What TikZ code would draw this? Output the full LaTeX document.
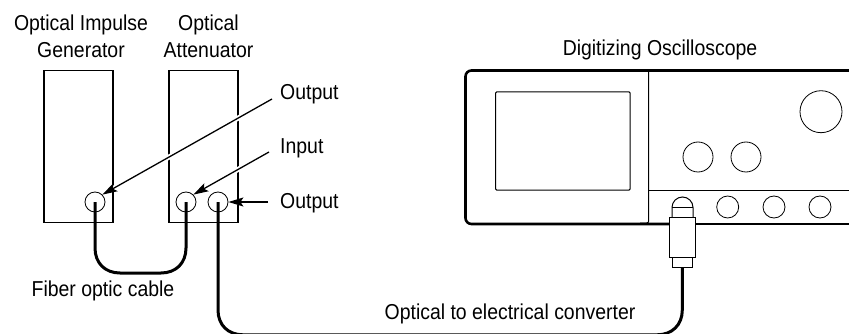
\documentclass[tikz,border=0pt]{standalone}
\usepackage{fontspec}
\setmainfont[FakeStretch=0.9]{Liberation Sans}
\usetikzlibrary{arrows.meta}
\tikzset{
  thinl/.style={draw=black,line width=1pt},
  unitbox/.style={draw=black,line width=1.6pt,line join=miter},
  heavy/.style={draw=black,line width=2.6pt},
  cable/.style={draw=black,line width=3pt},
  port/.style={circle,draw=black,line width=0.8pt,inner sep=0pt,minimum size=#1},
  label/.style={inner sep=0pt,font=\fontsize{21.6}{27}\selectfont,align=center},
  pointer/.style={draw=black,line width=1.3pt,-{Stealth[length=15pt,width=9pt,inset=3pt]}},
  halo/.style={draw=white,line width=5pt,shorten >=4pt},
}
\begin{document}
\begin{tikzpicture}[x=1pt,y=-1pt]
\useasboundingbox (0,0) rectangle (849,334);
% instruments
\node[unitbox,minimum width=69pt,minimum height=152pt,inner sep=0pt] (gen) at (78.6,146.6) {};
\node[unitbox,minimum width=69pt,minimum height=152pt,inner sep=0pt] (att) at (203.3,146.6) {};
\coordinate (a1) at (272,99);
\coordinate (a2) at (269,152);
\coordinate (a3) at (268,202);
\node[port=20pt] (p1) at (95,202) {};
\node[port=20pt] (p2) at (186,202) {};
\node[port=20pt] (p3) at (218,202) {};
\draw[halo] (a1) -- (p1.north east);
\draw[halo] (a2) -- (p2.north east);
\draw[halo] (a3) -- (p3.east);
% scope
\draw[heavy,rounded corners=6pt] (860,70.5) -- (465.5,70.5) -- (465.5,224) -- (669.5,224);
\draw[heavy] (695,224) -- (849,224);
\draw[thinl,rounded corners=2pt] (648.7,70.5) -- (648.7,223) -- (640,223);
\draw[thinl] (648.7,190.5) -- (849,190.5);
\node[draw=black,line width=1pt,rounded corners=1pt,minimum width=134.5pt,minimum height=98pt,inner sep=0pt] (screen) at (562.8,141) {};
\node[port=42pt] (k1) at (821,111.7) {};
\node[port=30pt] (k2) at (698,157) {};
\node[port=30pt] (k3) at (746,157) {};
\node[port=22pt] (s1) at (727.7,207) {};
\node[port=22pt] (s2) at (774,207) {};
\node[port=22pt] (s3) at (820,207) {};
% converter
\draw[thinl] (672,217) -- (672,207.5) arc[start angle=180,end angle=0,radius=10.5pt] -- (693,217);
\draw[thinl] (672,207.5) -- (693,207.5);
\node[draw=black,line width=1pt,fill=white,minimum width=25.5pt,minimum height=40pt,inner sep=0pt] (conv) at (682.3,237) {};
\node[draw=black,line width=1pt,fill=white,minimum width=20.5pt,minimum height=10pt,inner sep=0pt] (plug) at (682.3,262) {};
% cables
\draw[cable] (p1.center) -- (95,248) .. controls (95,263) and (105,273) .. (120,273) -- (161,273) .. controls (176,273) and (186,263) .. (186,248) -- (p2.center);
\coordinate (plugend) at (plug.south);
\draw[cable] (p3.center) -- (218,310) .. controls (218,325) and (228,334.8) .. (243,334.8) -- (657,334.8) .. controls (672,334.8) and (682.3,325) .. (682.3,310) -- (plugend);
% labels
\node[label] (t1) at (81,36) {Optical Impulse\\Generator};
\node[label] (t2) at (208.5,36) {Optical\\Attenuator};
\node[label] (t3) at (660,50) {Digitizing Oscilloscope};
\node[label,anchor=west] (o1) at (280,94) {Output};
\node[label,anchor=west] (i1) at (280,148) {Input};
\node[label,anchor=west] (o2) at (280,203) {Output};
\node[label] (t4) at (103,291) {Fiber optic cable};
\node[label] (t5) at (510,314) {Optical to electrical converter};
% pointers
\draw[pointer] (a1) -- (p1.north east);
\draw[pointer] (a2) -- (p2.north east);
\draw[pointer] (a3) -- (p3.east);
\end{tikzpicture}
\end{document}
